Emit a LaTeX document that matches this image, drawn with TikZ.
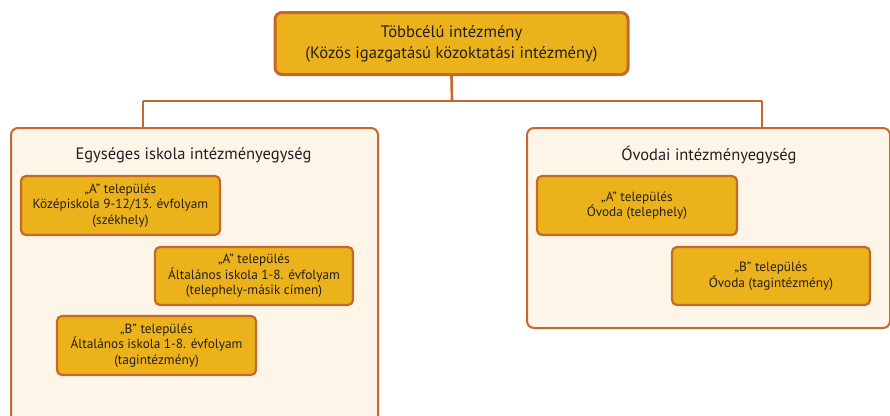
\documentclass[tikz,border=0pt]{standalone}
\usepackage{fontspec}
\setmainfont{PT Sans}
\definecolor{gold}{HTML}{ECB21B}
\definecolor{rim}{HTML}{C4692B}
\definecolor{cream}{HTML}{FDF6E8}
\definecolor{ink}{HTML}{231F20}
\begin{document}
\begin{tikzpicture}[x=1pt,y=-1pt,
  unitbox/.style={draw=rim, fill=gold, line width=2.2pt, rounded corners=5pt, align=center, text=ink,
    font=\fontsize{13.3}{15.5}\selectfont, inner sep=0pt},
  topbox/.style={draw=rim, fill=gold, line width=3pt, rounded corners=7pt, align=center, text=ink,
    font=\fontsize{16.6}{21}\selectfont, inner sep=0pt},
  groupbox/.style={draw=rim, fill=cream, line width=2pt, rounded corners=7pt, inner sep=0pt},
  grouptitle/.style={text=ink, font=\fontsize{16.5}{18}\selectfont, inner sep=0pt},
  link/.style={draw=rim, line width=2.6pt}]
\useasboundingbox (0,0) rectangle (890,415);
\clip (0,0) rectangle (890,415);
\fill[white] (0,0) rectangle (890,415);
% top
\node[topbox, minimum width=353pt, minimum height=62pt] (top) at (451.5,43.5)
  {Többcélú intézmény\\(Közös igazgatású közoktatási intézmény)};
% groups
\node[groupbox, minimum width=367pt, minimum height=320pt, anchor=north west] (left) at (10,127) {};
\node[groupbox, minimum width=363pt, minimum height=200pt, anchor=north west] (right) at (526,127) {};
\node[grouptitle] (ltitle) at (193.5,155) {Egységes iskola intézményegység};
\node[grouptitle] (rtitle) at (709,155) {Óvodai intézményegység};
% connectors
\coordinate (bus) at (452,101);
\coordinate (bl) at (143,101);
\coordinate (br) at (762,101);
\draw[link] (top.south) -- (bus);
\draw[link] (bl) -- (br);
\draw[link] (bl) -- (bl |- left.north);
\draw[link] (br) -- (br |- right.north);
% left units
\node[unitbox, minimum width=199pt, minimum height=59pt] (l1) at (120.5,205.5)
  {„A” település\\Középiskola 9-12/13. évfolyam\\(székhely)};
\node[unitbox, minimum width=198pt, minimum height=58pt] (l2) at (254,276)
  {„A” település\\Általános iskola 1-8. évfolyam\\(telephely-másik címen)};
\node[unitbox, minimum width=199pt, minimum height=59pt] (l3) at (156.5,345.5)
  {„B” település\\Általános iskola 1-8. évfolyam\\(tagintézmény)};
% right units
\node[unitbox, minimum width=200pt, minimum height=59pt] (r1) at (637,205.5)
  {„A” település\\Óvoda (telephely)};
\node[unitbox, minimum width=198pt, minimum height=58pt] (r2) at (771,276)
  {„B” település\\Óvoda (tagintézmény)};
\end{tikzpicture}
\end{document}
